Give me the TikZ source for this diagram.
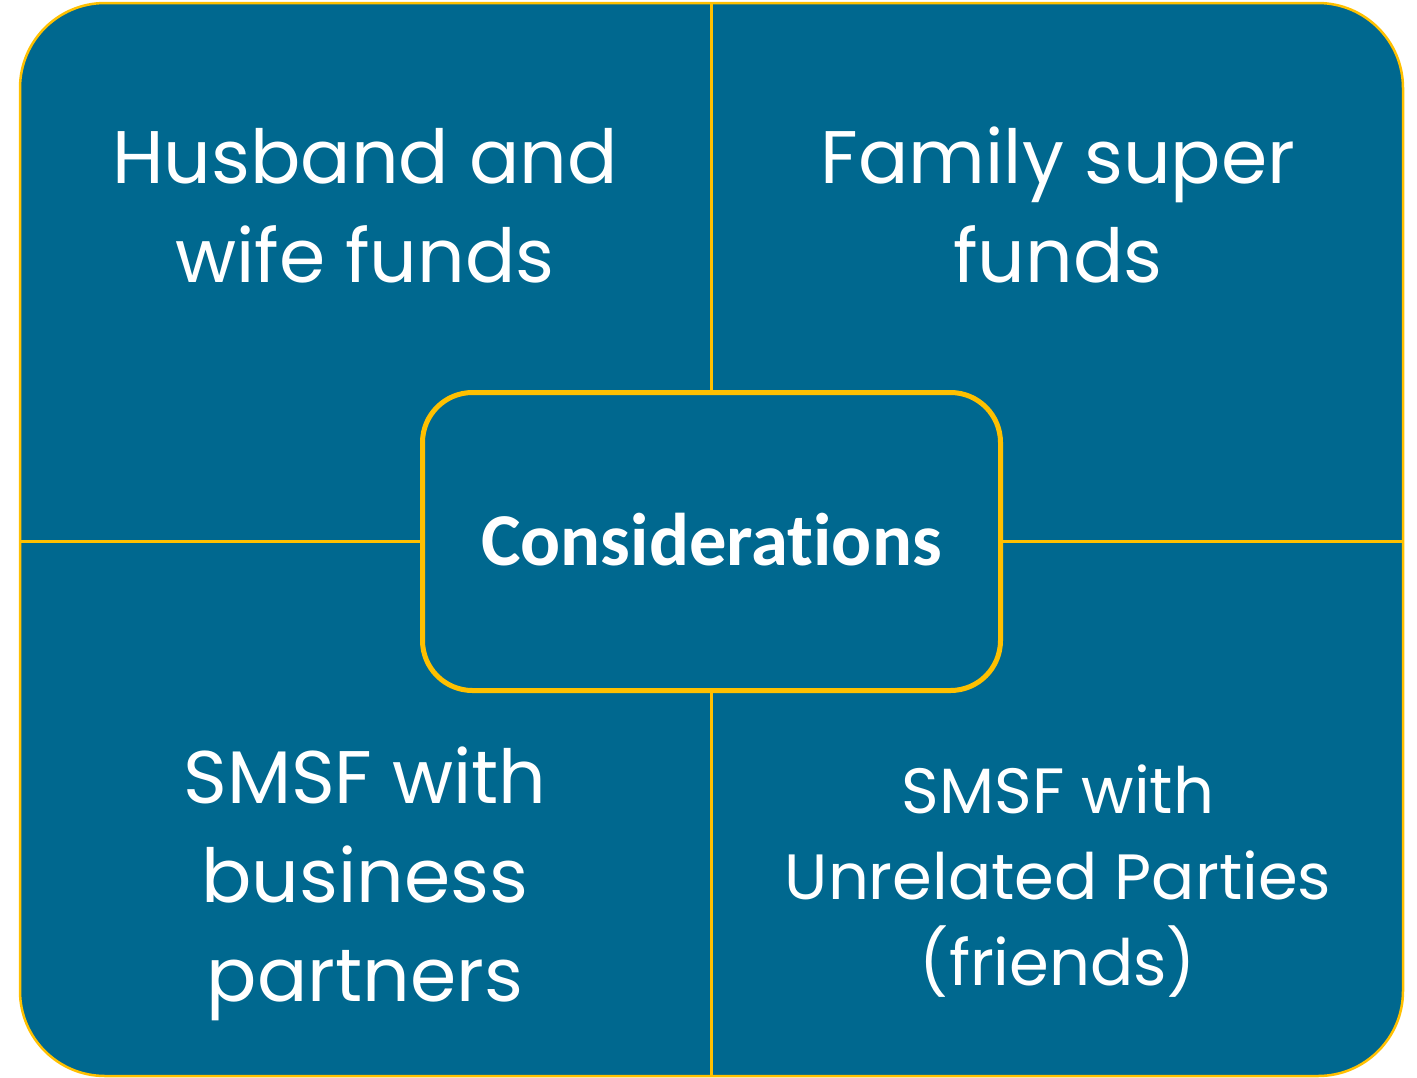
\documentclass[tikz,border=0pt]{standalone}
\usepackage{fontspec}
\newfontfamily\popfont{Poppins}
\newfontfamily\calfont[Ligatures=NoCommon]{Carlito}
\definecolor{boxblue}{HTML}{00688F}
\definecolor{gold}{HTML}{FFC000}
\begin{document}
\begin{tikzpicture}[x=1pt,y=-1pt,
  outerbox/.style={draw=gold, fill=boxblue, line width=2.5pt, rounded corners=85pt, minimum width=1383pt, minimum height=1073pt, inner sep=0pt},
  centerbox/.style={draw=gold, fill=boxblue, line width=5pt, rounded corners=50pt, minimum width=578pt, minimum height=298pt, inner sep=0pt},
  divider/.style={draw=gold, line width=2.5pt},
  bigtext/.style={text=white, align=center, anchor=base, font=\popfont\fontsize{74.5}{99}\selectfont},
  smalltext/.style={text=white, align=center, anchor=base, font=\popfont\fontsize{64}{86}\selectfont},
  centertext/.style={text=white, anchor=base, font=\calfont\bfseries\fontsize{74.6}{90}\selectfont}
]
\useasboundingbox (0,0) rectangle (1417,1077);
\node[outerbox] (outer) at (711.5,539.5) {};
\node[centerbox] (center) at (711.5,541.5) {};
\draw[divider] (center.north) -- (center.north |- outer.north);
\draw[divider] (center.south) -- (center.south |- outer.south);
\draw[divider] (center.west) -- (center.west -| outer.west);
\draw[divider] (center.east) -- (center.east -| outer.east);
\node[centertext] (consid) at (711.5,565) {Considerations};
\node[bigtext] (tl) at (365,282) {Husband and\\wife funds};
\node[bigtext] (tr) at (1058,282) {Family super\\funds};
\node[bigtext] (bl) at (365,1001) {SMSF with\\business\\partners};
\node[smalltext] (br) at (1058,985) {SMSF with\\Unrelated Parties\\(friends)};
\end{tikzpicture}
\end{document}
